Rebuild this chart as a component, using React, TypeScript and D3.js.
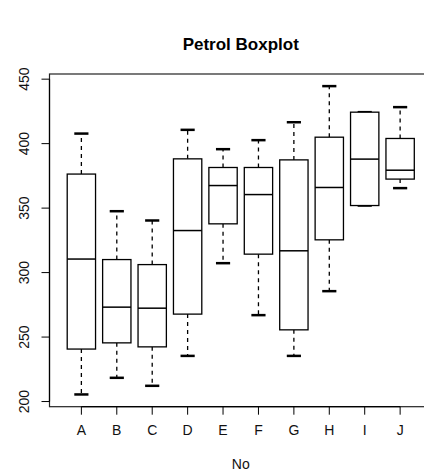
import React from 'react'
import * as d3 from 'd3'

// petrol values by group
const groups = ['A', 'B', 'C', 'D', 'E', 'F', 'G', 'H', 'I', 'J']
const lowWhisker = [205.5, 218.4, 212.2, 235.4, 307.3, 267, 235.4, 285.6, 352, 365.5]
const q1 = [240.7, 245.5, 242.4, 267.8, 337.8, 314.3, 255.6, 325.4, 352, 372.5]
const median = [310.5, 273.2, 272.4, 332.6, 367.5, 360.5, 316.9, 366, 388, 379.4]
const q3 = [376.4, 310.1, 306.2, 388.2, 381.5, 381.5, 387.4, 405, 424.4, 404]
const highWhisker = [407.8, 347.6, 340.4, 410.7, 395.7, 402.7, 416.6, 444.6, 424.4, 428.3]
const yTicks = [200, 250, 300, 350, 400, 450]

const width = 424
const height = 472
const font = '"Liberation Sans", Arial, sans-serif'

export default function App() {
  const x = d3.scaleLinear().domain([0.1, 10.9]).range([49.5, 432])
  const y = d3.scaleLinear().domain([196, 454]).range([406.7, 74])

  const step = x(2) - x(1)
  const boxW = step * 0.8
  const capW = boxW * 0.5

  const rows = groups.map((g, i) => ({
    g,
    cx: x(i + 1),
    lo: lowWhisker[i],
    q1: q1[i],
    med: median[i],
    q3: q3[i],
    hi: highWhisker[i],
  }))

  const left = x.range()[0]
  const right = x.range()[1]
  const top = y.range()[1]
  const bottom = y.range()[0]

  return (
    <svg
      width={width}
      height={height}
      style={{ position: 'absolute', left: 0, top: 0, background: 'white' }}
      fontFamily={font}
    >
      <text x={(left + right) / 2} y={50} textAnchor="middle" fontSize={17} fontWeight="bold" fill="#000">
        Petrol Boxplot
      </text>

      {rows.map((d) => (
        <g key={d.g} stroke="#000" fill="none">
          <line x1={d.cx} x2={d.cx} y1={y(d.q3)} y2={y(d.hi)} strokeDasharray="4,4" strokeWidth={1.3} />
          <line x1={d.cx} x2={d.cx} y1={y(d.q1)} y2={y(d.lo)} strokeDasharray="4,4" strokeWidth={1.3} />
          <line x1={d.cx - capW / 2} x2={d.cx + capW / 2} y1={y(d.hi)} y2={y(d.hi)} strokeWidth={2.5} />
          <line x1={d.cx - capW / 2} x2={d.cx + capW / 2} y1={y(d.lo)} y2={y(d.lo)} strokeWidth={2.5} />
          <rect x={d.cx - boxW / 2} y={y(d.q3)} width={boxW} height={y(d.q1) - y(d.q3)} fill="white" strokeWidth={1.3} />
          <line x1={d.cx - boxW / 2} x2={d.cx + boxW / 2} y1={y(d.med)} y2={y(d.med)} strokeWidth={1.5} />
        </g>
      ))}

      <rect x={left} y={top} width={right - left} height={bottom - top} fill="none" stroke="#222" strokeWidth={1.2} />

      {/* y axis */}
      <line x1={left} x2={left} y1={y(200)} y2={y(450)} stroke="#000" strokeWidth={1.2} />
      {yTicks.map((t) => (
        <g key={t}>
          <line x1={left - 8} x2={left} y1={y(t)} y2={y(t)} stroke="#000" />
          <text
            transform={`translate(29, ${y(t)}) rotate(-90)`}
            textAnchor="middle"
            fontSize={14}
            fill="#111"
          >
            {t}
          </text>
        </g>
      ))}

      {/* x axis */}
      <line x1={x(1)} x2={x(10)} y1={bottom} y2={bottom} stroke="#000" strokeWidth={1.2} />
      {rows.map((d) => (
        <g key={d.g}>
          <line x1={d.cx} x2={d.cx} y1={bottom} y2={bottom + 8} stroke="#000" />
          <text x={d.cx} y={434.5} textAnchor="middle" fontSize={14} fill="#111">
            {d.g}
          </text>
        </g>
      ))}
      <text x={(left + right) / 2} y={469} textAnchor="middle" fontSize={14} fill="#111">
        No
      </text>
    </svg>
  )
}
